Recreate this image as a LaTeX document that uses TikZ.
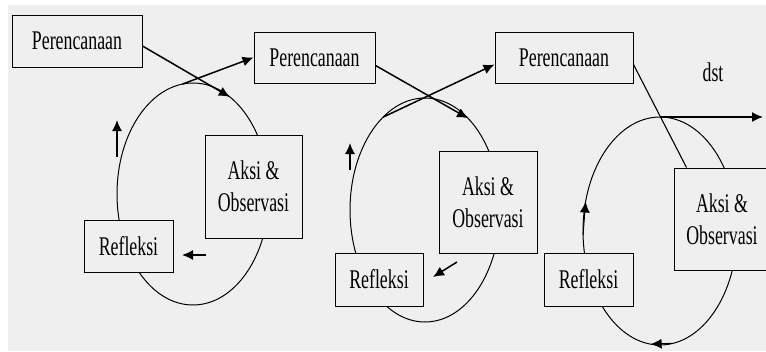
\documentclass[tikz,border=0pt]{standalone}
\usepackage{fontspec}
\newfontfamily\boxfont{Liberation Serif}[FakeStretch=0.66]
\usetikzlibrary{shapes.geometric,arrows.meta}
\definecolor{paper}{HTML}{EFEFEF}

\begin{document}
\begin{tikzpicture}[x=1pt,y=-1pt]
    % Define block styles
    \tikzstyle{block} = [rectangle, draw, fill=paper, line width=1pt, inner sep=0pt,
        font=\boxfont\fontsize{27}{32}\selectfont, align=center]
    \tikzstyle{orbit} = [ellipse, draw, line width=1pt, inner sep=0pt, outer sep=0pt]
    \tikzstyle{line} = [draw, line width=1.5pt, -{Latex[length=11pt,width=10pt]}] % Arrow with direction

    % Paper
    \useasboundingbox (0,0) rectangle (766,351);
    \fill [white] (0,0) rectangle (766,351);
    \fill [paper] (8,5) rectangle (766,351);

    % Place cycles
    \node [orbit, minimum width=152pt, minimum height=222pt] (cyc1) at (193,194) {};
    \node [orbit, minimum width=150pt, minimum height=224pt] (cyc2) at (425,210) {};
    \node [orbit, minimum width=154pt, minimum height=228pt] (cyc3) at (660,231) {};

    % Place nodes
    \node [block, minimum width=130pt, minimum height=52pt] (plan1) at (77,41) {Perencanaan};
    \node [block, minimum width=97pt, minimum height=103pt] (act1) at (253.5,186.5) {Aksi \&\\Observasi};
    \node [block, minimum width=89pt, minimum height=52pt] (refl1) at (128.5,246) {Refleksi};
    \node [block, minimum width=121pt, minimum height=51pt] (plan2) at (314.5,57.5) {Perencanaan};
    \node [block, minimum width=98pt, minimum height=102pt] (act2) at (488,202) {Aksi \&\\Observasi};
    \node [block, minimum width=88pt, minimum height=53pt] (refl2) at (379,279.5) {Refleksi};
    \node [block, minimum width=138pt, minimum height=51pt] (plan3) at (564,57.5) {Perencanaan};
    \node [block, minimum width=96pt, minimum height=102pt] (act3) at (722,219) {Aksi \&\\Observasi};
    \node [block, minimum width=89pt, minimum height=53pt] (refl3) at (588.5,279.5) {Refleksi};
    \node [block, draw=none, fill=none] (dst) at (713,72) {dst};

    % Points on the cycles
    \path (cyc1.center) ++(61:76pt and 111pt) coordinate (in1);
    \path (cyc1.center) ++(98:76pt and 111pt) coordinate (out1);
    \path (cyc2.center) ++(55:75pt and 112pt) coordinate (in2);
    \path (cyc2.center) ++(124:75pt and 112pt) coordinate (out2);
    \coordinate (next) at (763,117);
    \coordinate (up1a) at (117,157);
    \coordinate (up1b) at (117,120);
    \coordinate (back1a) at (206,255);
    \coordinate (back1b) at (182,255);
    \coordinate (up2a) at (350,170);
    \coordinate (up2b) at (350,143);
    \coordinate (back2a) at (457,262);
    \coordinate (back2b) at (433,277);
    \path (cyc3.center) ++(182:77pt and 114pt) coordinate (up3a);
    \path (cyc3.center) ++(165:77pt and 114pt) coordinate (up3b);
    \path (cyc3.center) ++(280:77pt and 114pt) coordinate (back3a);
    \path (cyc3.center) ++(263:77pt and 114pt) coordinate (back3b);

    % Draw arrows
    \path [line] ([yshift=-5pt]plan1.east) -- (in1);
    \path [line] (out1) -- (plan2.west);
    \path [line] (up1a) -- (up1b);
    \path [line] (back1a) -- (back1b);
    \path [line] ([yshift=-8pt]plan2.east) -- (in2);
    \path [line] (out2) -- ([yshift=-7pt]plan3.west);
    \path [line] (up2a) -- (up2b);
    \path [line] (back2a) -- (back2b);
    \draw [line width=1.1pt] ([yshift=-7pt]plan3.east) -- ([xshift=13pt]act3.north west);
    \path [line] (cyc3.north) -- (next);
    \path [line, line width=1pt] (up3a) -- (up3b);
    \path [line, line width=1pt] (back3a) -- (back3b);

\end{tikzpicture}
\end{document}
